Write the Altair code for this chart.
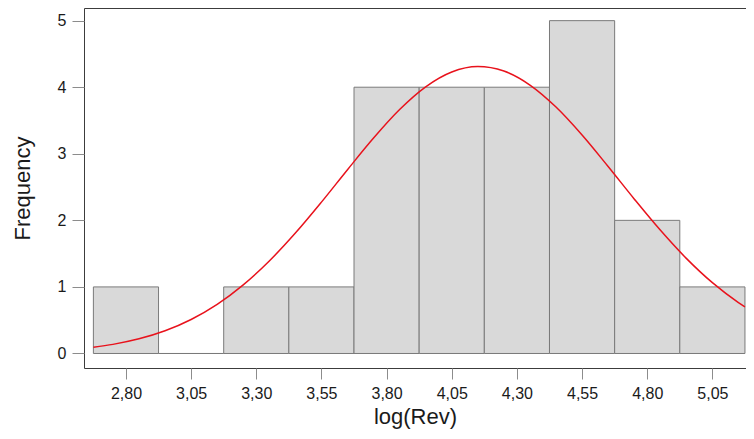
import altair as alt
import pandas as pd

# Histogram bins (centres) and counts
bin_centers = [2.80, 3.05, 3.30, 3.55, 3.80, 4.05, 4.30, 4.55, 4.80, 5.05]
counts = [1, 0, 1, 1, 4, 4, 4, 5, 2, 1]
bin_width = 0.25

# Fitted curve
curve_x = [2.675, 2.75, 2.85, 2.95, 3.05, 3.15, 3.25, 3.35, 3.45, 3.55, 3.65, 3.75,
           3.85, 3.95, 4.05, 4.15, 4.25, 4.35, 4.45, 4.55, 4.65, 4.75, 4.85, 4.95,
           5.05, 5.15, 5.175]
curve_y = [0.094, 0.137, 0.220, 0.341, 0.511, 0.738, 1.031, 1.390, 1.809, 2.274,
           2.761, 3.236, 3.664, 4.005, 4.228, 4.310, 4.243, 4.033, 3.702, 3.282,
           2.809, 2.322, 1.854, 1.429, 1.064, 0.765, 0.700]

x_ticks = bin_centers
y_ticks = [0, 1, 2, 3, 4, 5]

bars = pd.DataFrame({"center": bin_centers, "count": counts})
curve = pd.DataFrame({"x": curve_x, "y": curve_y})

x_scale = alt.Scale(domain=[2.639, 5.179], nice=False, zero=False)
y_scale = alt.Scale(domain=[-0.218, 5.19], nice=False, zero=False)

rects = alt.Chart(bars).transform_calculate(
    start=f"datum.center - {bin_width}/2",
    end=f"datum.center + {bin_width}/2",
).mark_rect(fill="#d9d9d9", stroke="#7a7a7a", strokeWidth=1).encode(
    x=alt.X("start:Q", scale=x_scale, title="log(Rev)",
            axis=alt.Axis(values=x_ticks,
                          labelExpr="replace(format(datum.value, '.2f'), '.', ',')")),
    x2="end:Q",
    y=alt.Y("count:Q", scale=y_scale, title="Frequency",
            axis=alt.Axis(values=y_ticks, format="d")),
    y2=alt.datum(0),
)

line = alt.Chart(curve).mark_line(color="#e8121c", strokeWidth=1.5,
                                  interpolate="monotone").encode(
    x=alt.X("x:Q", scale=x_scale, title="log(Rev)"),
    y=alt.Y("y:Q", scale=y_scale, title="Frequency"),
)

chart = alt.layer(rects, line).properties(
    width=662,
    height=360,
    autosize=alt.AutoSizeParams(type="none"),
    padding={"left": 76, "top": 0, "right": 0, "bottom": 61},
).configure_view(
    stroke="#3c3c3c", strokeWidth=1
).configure_axis(
    grid=False,
    domain=False,
    labelFont="Liberation Sans",
    titleFont="Liberation Sans",
    labelFontSize=16,
    titleFontSize=22,
    titleFontWeight="normal",
    labelColor="#1a1a1a",
    titleColor="#1a1a1a",
    tickColor="#8c8c8c",
).configure_axisX(
    tickSize=11,
    labelPadding=6,
    titlePadding=5,
).configure_axisY(
    tickSize=12,
    labelPadding=6,
    titlePadding=23,
)

chart.save("out.html", embed_options={"renderer": "svg", "actions": False})
